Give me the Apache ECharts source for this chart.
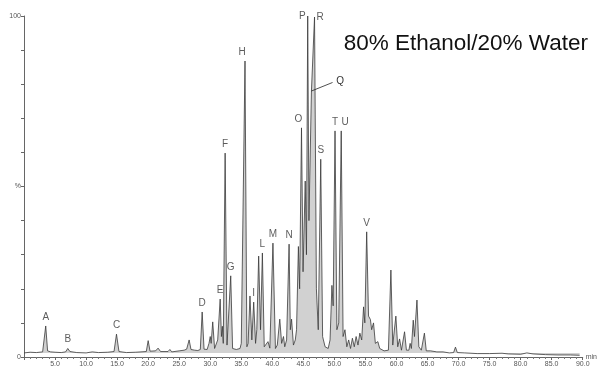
<!DOCTYPE html>
<html>
<head>
<meta charset="utf-8">
<script src="https://cdn.jsdelivr.net/npm/echarts@6/dist/echarts.min.js"></script>
<style>
  html, body { margin: 0; padding: 0; background: #fff; }
  #chart { width: 600px; height: 372px; }
</style>
</head>
<body>
<div id="chart"></div>
<script>
// retention time (min) and relative abundance (%)
var retention = [
  0.0, 1.0, 2.0, 3.0, 3.2, 3.5, 3.8, 4.3, 5.0, 6.0, 6.7, 7.05, 7.4, 8.5, 10.0, 11.0, 12.0, 13.5, 14.5, 14.9, 15.3,
  16.5, 18.0, 19.7, 20.0, 20.3, 21.2, 21.6, 22.0, 23.2, 23.5, 23.8, 25.0, 25.8, 26.2, 26.6, 26.9, 27.5, 28.0,
  28.4, 28.7, 29.0, 29.5, 29.8, 30.0, 30.15, 30.4, 30.7, 31.0, 31.2, 31.6, 31.8, 31.95, 32.1, 32.4, 32.7, 33.0,
  33.3, 33.6, 34.2, 34.8, 35.0, 35.6, 35.9, 36.1, 36.4, 36.7, 37.0, 37.3, 37.5, 37.8, 38.1, 38.4, 38.7, 39.0,
  39.3, 39.6, 40.1, 40.5, 40.8, 41.2, 41.5, 41.8, 42.0, 42.3, 42.7, 42.9, 43.1, 43.4, 43.7, 43.9, 44.2, 44.4,
  44.7, 44.95, 45.3, 45.5, 45.7, 45.9, 46.3, 46.8, 47.1, 47.4, 47.8, 48.1, 48.5, 49.0, 49.3, 49.6, 49.8, 50.1,
  50.4, 50.7, 51.1, 51.4, 51.7, 52.0, 52.3, 52.6, 52.9, 53.2, 53.5, 53.8, 54.1, 54.4, 54.7, 54.9, 55.2, 55.5,
  55.8, 56.0, 56.3, 56.6, 57.0, 57.3, 58.0, 58.7, 59.1, 59.4, 59.9, 60.2, 60.5, 60.8, 61.3, 61.6, 62.0, 62.2,
  62.4, 62.7, 62.9, 63.3, 63.6, 64.0, 64.5, 64.8, 65.5, 66.5, 67.5, 68.5, 69.2, 69.5, 69.8, 71.0, 72.0, 73.0,
  75.0, 77.0, 78.0, 80.0, 81.0, 82.0, 84.0, 86.0, 88.0, 89.5
];
var abundance = [
  1.2, 1.4, 1.3, 1.5, 1.6, 9.1, 1.8, 1.5, 1.4, 1.3, 1.5, 2.5, 1.6, 1.3, 1.2, 1.5, 1.3, 1.4, 1.6, 6.7, 1.6,
  1.3, 1.4, 1.6, 4.8, 1.7, 1.8, 2.6, 1.6, 1.6, 2.2, 1.5, 1.8, 2.0, 2.3, 5.0, 2.2, 2.0, 1.9,
  2.2, 13.2, 2.3, 2.2, 4.0, 6.0, 4.0, 10.3, 2.5, 3.0, 5.0, 17.0, 6.0, 9.0, 4.0, 59.8, 3.5, 3.0,
  23.8, 2.5, 2.2, 2.5, 4.0, 86.8, 3.0, 4.0, 17.9, 5.0, 16.1, 4.0, 8.0, 29.6, 8.0, 30.5, 3.0, 2.8,
  4.5, 2.6, 33.4, 2.5, 3.5, 11.1, 4.0, 6.0, 3.0, 5.0, 33.1, 8.0, 11.1, 3.5, 5.0, 8.0, 32.4, 20.0,
  67.2, 25.0, 51.6, 30.0, 100.0, 40.0, 78.0, 99.7, 20.0, 8.0, 58.0, 6.0, 3.0, 2.5, 5.0, 21.0, 15.0, 66.3,
  8.0, 10.0, 66.3, 6.0, 8.0, 3.0, 5.0, 2.5, 5.5, 3.0, 6.0, 3.5, 7.0, 5.0, 14.7, 10.0, 36.7, 12.0,
  11.0, 8.0, 10.0, 4.0, 4.5, 2.5, 1.8, 2.0, 25.5, 3.5, 12.0, 3.0, 5.3, 2.0, 7.4, 2.0, 2.0, 4.0,
  2.5, 10.8, 6.0, 16.7, 3.0, 2.0, 7.0, 1.8, 1.8, 1.5, 1.5, 1.2, 1.3, 2.9, 1.3, 1.2, 1.1, 1.0,
  1.0, 1.1, 0.9, 0.8, 1.2, 0.9, 0.7, 0.6, 0.6, 0.5
];

// peak letters with the apex they mark
var peakNames = ['A', 'B', 'C', 'D', 'E', 'F', 'G', 'H', 'I', 'L', 'M', 'N', 'O', 'P', 'R', 'S', 'T', 'U', 'V'];
var peakTimes = [3.5, 7.05, 14.9, 28.7, 31.6, 32.4, 33.3, 35.6, 37.0, 38.4, 40.1, 42.7, 44.7, 45.7, 46.8, 47.8, 50.1, 51.1, 55.2];
var peakHeights = [9.1, 2.5, 6.7, 13.2, 17.0, 59.8, 23.8, 86.8, 16.1, 30.5, 33.4, 33.1, 67.2, 100.0, 99.7, 58.0, 66.3, 66.3, 36.7];

var xTicks = [5, 10, 15, 20, 25, 30, 35, 40, 45, 50, 55, 60, 65, 70, 75, 80, 85, 90];

var chart = echarts.init(document.getElementById('chart'));

var trace = retention.map(function (t, i) { return [t, abundance[i]]; });
var peaks = peakNames.map(function (n, i) {
  var item = { name: n, value: [peakTimes[i], peakHeights[i]] };
  if (n === 'P') item.label = { position: 'left', distance: 2 };
  if (n === 'R') item.label = { position: 'right', distance: 2 };
  if (n === 'O') item.label = { offset: [-3, 0] };
  if (n === 'U') item.label = { offset: [4, 0] };
  if (n === 'H') item.label = { offset: [-3, 0] };
  return item;
});

chart.setOption({
  animation: false,
  backgroundColor: '#fff',
  title: {
    text: '80% Ethanol/20% Water',
    right: 7,
    top: 27,
    textStyle: { fontFamily: 'Liberation Sans', fontSize: 22.5, fontWeight: 'normal', color: '#111' }
  },
  grid: { left: 24, right: 15, top: 16, bottom: 15 },
  xAxis: {
    type: 'value',
    min: 0,
    max: 90,
    interval: 5,
    name: 'min',
    nameGap: 3,
    nameTextStyle: { fontSize: 7, color: '#555', padding: [10, 0, 0, 0] },
    axisLine: { lineStyle: { color: '#666', width: 1 } },
    axisTick: { length: 3, lineStyle: { color: '#666' } },
    minorTick: { show: true, splitNumber: 5, length: 2, lineStyle: { color: '#777' } },
    axisLabel: {
      fontSize: 7, color: '#555', margin: 4,
      formatter: function (v) { return xTicks.indexOf(v) >= 0 ? v.toFixed(1) : ''; }
    },
    splitLine: { show: false }
  },
  yAxis: {
    type: 'value',
    min: 0,
    max: 100,
    interval: 10,
    axisLine: { show: true, lineStyle: { color: '#666', width: 1 } },
    axisTick: { show: true, length: 3, lineStyle: { color: '#666' } },
    axisLabel: {
      fontSize: 7, color: '#555', margin: 3,
      formatter: function (v) { return v === 100 ? '100' : v === 50 ? '%' : v === 0 ? '0' : ''; }
    },
    splitLine: { show: false }
  },
  series: [
    {
      type: 'line',
      data: trace,
      symbol: 'none',
      lineStyle: { color: '#3a3a3a', width: 0.8 },
      areaStyle: { color: '#bdbdbd', origin: 1.2 },
      markLine: {
        silent: true,
        symbol: 'none',
        lineStyle: { color: '#222', width: 0.8, type: 'solid' },
        label: { show: true, position: 'end', formatter: 'Q', fontSize: 10, color: '#333', distance: 4 },
        data: [[{ coord: [46.3, 78] }, { coord: [49.7, 80.5] }]]
      }
    },
    {
      type: 'scatter',
      data: peaks,
      symbolSize: 0,
      silent: true,
      label: {
        show: true,
        position: 'top',
        distance: 4,
        formatter: '{b}',
        fontFamily: 'Liberation Sans',
        fontSize: 10,
        color: '#333'
      }
    }
  ]
});
</script>
</body>
</html>
